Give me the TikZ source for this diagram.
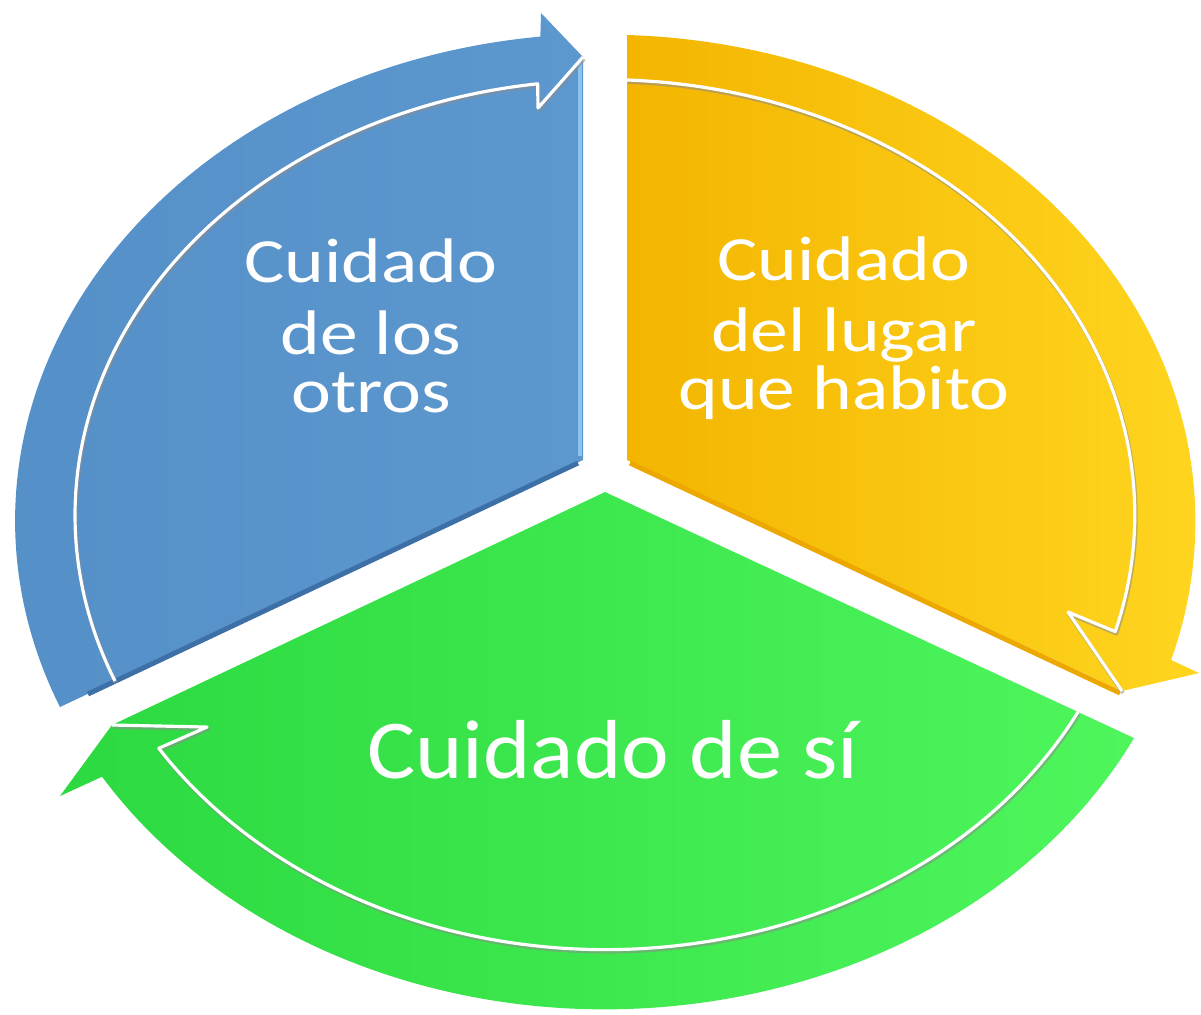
\documentclass[tikz,border=0pt]{standalone}
\usepackage{fontspec}
\setmainfont{Carlito}
\usepackage{xcolor}

\definecolor{otrosA}{RGB}{84,143,199}
\definecolor{otrosB}{RGB}{92,152,206}
\definecolor{otrosEdge}{RGB}{140,194,240}
\definecolor{otrosDark}{RGB}{62,112,168}
\definecolor{lugarA}{RGB}{243,181,0}
\definecolor{lugarB}{RGB}{255,214,32}
\definecolor{lugarEdge}{RGB}{236,168,0}
\definecolor{siA}{RGB}{44,217,64}
\definecolor{siB}{RGB}{78,246,92}

\begin{document}
\begin{tikzpicture}[x=0.01cm, y=-0.01cm,
		sectortext/.style={text=white, align=center, inner sep=0pt, xscale=1.2},
		innerline/.style={white, line width=0.9pt, line join=round},
		innershade/.style={black!45, line width=1.1pt, line join=round, opacity=0.55}]
			\useasboundingbox (0,0) rectangle (1201,1014);
			
			\path[left color=otrosA, right color=otrosB] (583,460) -- (60,707)
				arc[start angle=157.5, end angle=263.7, x radius=590, y radius=487]
				-- (541,13) -- (583,57) -- cycle;
			\path[left color=lugarA, right color=lugarB] (627,460) -- (627,35)
				arc[start angle=272.1, end angle=376.5, x radius=590, y radius=487]
				-- (1199,673) -- (1122,691) -- cycle;
			\path[left color=siA, right color=siB] (605,492) -- (1134,738)
				arc[start angle=26.3, end angle=148.5, x radius=590, y radius=487]
				-- (60,796) -- (112,725) -- cycle;
			
			\draw[otrosEdge, line width=1.4pt] (580,62) -- (580,456);
			\draw[otrosDark, line width=1.4pt] (578,463) -- (88,694);
			\draw[lugarEdge, line width=1.4pt] (630,463) -- (1120,693);
			
			\foreach \s/\dx/\dy in {innershade/1/2, innerline/0/0}{
				\begin{scope}[shift={(\dx,\dy)}]
					\draw[\s] (115,681) arc[start angle=157.6, end angle=262.7, x radius=530, y radius=435]
						-- (538,108) -- (583,57);
					\draw[\s] (627,80) arc[start angle=272.4, end angle=375.6, x radius=530, y radius=435]
						-- (1068,612) -- (1122,691);
					\draw[\s] (1078,712) arc[start angle=27, end angle=147.5, x radius=530, y radius=435]
						-- (207,727) -- (112,725);
				\end{scope}
			}
			
			\node[sectortext, font=\fontsize{17.9}{18.4}\selectfont] (otros) at (371,326)
				{Cuidado\\[2pt]de los\\[-2pt]otros};
			\node[sectortext, font=\fontsize{17.9}{18.4}\selectfont] (lugar) at (844,328)
				{Cuidado\\[2pt]del lugar\\[-2pt]que habito};
			\node[sectortext, xscale=0.9, font=\fontsize{23.8}{26}\selectfont, anchor=base] (si) at (613,778)
				{Cuidado de sí};
		\end{tikzpicture}
\end{document}
